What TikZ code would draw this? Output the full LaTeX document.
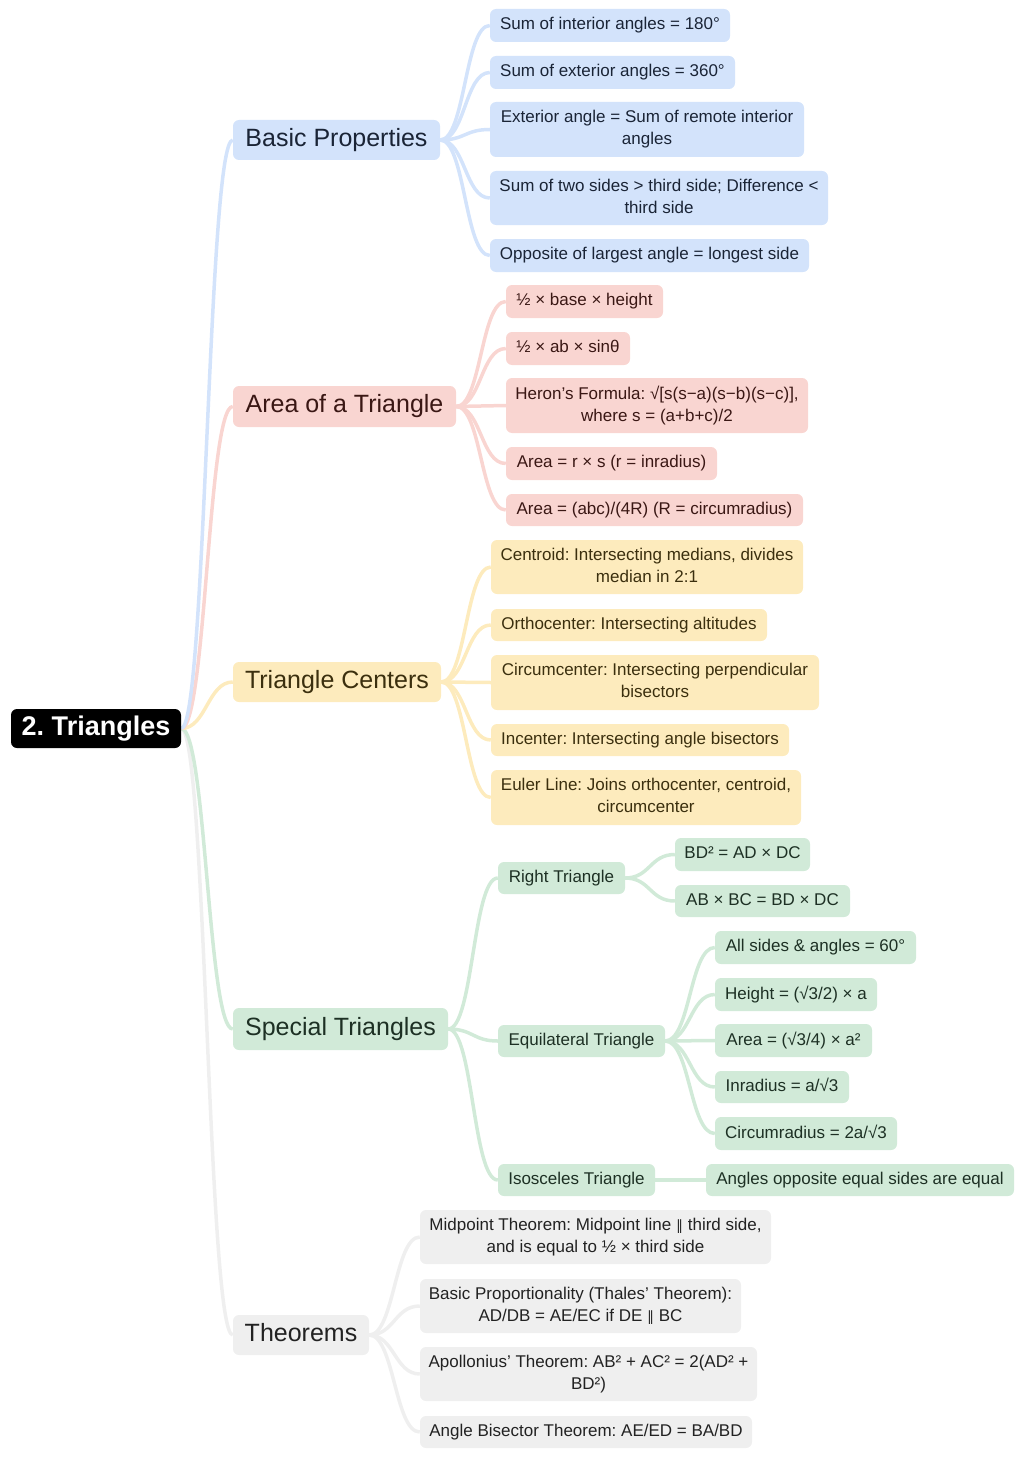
\documentclass[tikz,border=0pt]{standalone}
\usepackage{fontspec}
\setmainfont{Liberation Sans}
\newfontfamily\dvs{DejaVu Sans}
\usetikzlibrary{backgrounds}
\frenchspacing
\definecolor{bfill}{HTML}{D3E3FB}
\definecolor{btext}{HTML}{1A2436}
\definecolor{rfill}{HTML}{F9D5D1}
\definecolor{rtext}{HTML}{3A1714}
\definecolor{yfill}{HTML}{FDEBBD}
\definecolor{ytext}{HTML}{3B2F0E}
\definecolor{gfill}{HTML}{D1EAD8}
\definecolor{gtext}{HTML}{1D3024}
\definecolor{kfill}{HTML}{EFEFEF}
\definecolor{ktext}{HTML}{222222}
\newcommand\lnk[3]{\draw[cn=#1] (#2.east) .. controls +(25,0) and +(-25,0) .. (#3.west);}
\newcommand\parsym{{\dvs\fontsize{14}{14}\selectfont ∥}}
\newcommand\T{\rule[-0.24em]{0pt}{0.99em}}
\begin{document}
\begin{tikzpicture}[x=1pt,y=-1pt,
  box/.style={rounded corners=6pt, inner sep=0pt, align=center, font=\fontsize{17}{22}\selectfont},
  main/.style={rounded corners=6pt, inner sep=0pt, font=\fontsize{25}{30}\selectfont},
  sz/.style 2 args={minimum width=#1, minimum height=#2},
  bl/.style={box, fill=bfill, text=btext},
  rd/.style={box, fill=rfill, text=rtext},
  yl/.style={box, fill=yfill, text=ytext},
  gr/.style={box, fill=gfill, text=gtext},
  gy/.style={box, fill=kfill, text=ktext},
  cn/.style={line width=3.5pt, draw=#1}]
\useasboundingbox (0,0) rectangle (1024,1458);
% root
\node[rounded corners=6pt, fill=black, text=white, font=\fontsize{27}{30}\selectfont\bfseries, sz={170}{39}] (root) at (96,728.5) {\T 2. Triangles};
% main branches
\node[main, fill=bfill, text=btext, sz={207}{40}] (bp) at (336.5,140) {\T Basic Properties};
\node[main, fill=rfill, text=rtext, sz={223}{41}] (ar) at (344.5,406.5) {\T Area of a Triangle};
\node[main, fill=yfill, text=ytext, sz={208}{40}] (tc) at (337,682) {\T Triangle Centers};
\node[main, fill=gfill, text=gtext, sz={215}{42}] (st) at (340.5,1029) {\T Special Triangles};
\node[main, fill=kfill, text=ktext, sz={136}{40}] (th) at (301,1335) {\T Theorems};
% basic properties
\node[bl, sz={240}{33}] (b1) at (610,25.5) {\T Sum of interior angles = 180°};
\node[bl, sz={245}{33}] (b2) at (612.5,72.5) {\T Sum of exterior angles = 360°};
\node[bl, sz={314}{55}] (b3) at (647,129.5) {\T Exterior angle = Sum of remote interior\\angles\T};
\node[bl, sz={338}{54}] (b4) at (659,198) {\T Sum of two sides > third side; Difference <\\third side\T};
\node[bl, sz={319}{33}] (b5) at (649.5,255.5) {\T Opposite of largest angle = longest side};
% area
\node[rd, sz={157}{33}] (a1) at (584.5,301.5) {\T ½ × base × height};
\node[rd, sz={124}{33}] (a2) at (568,348.5) {\T ½ × ab × sinθ};
\node[rd, sz={302}{55}] (a3) at (657,405.5) {\T Heron’s Formula: √[s(s−a)(s−b)(s−c)],\\where s = (a+b+c)/2\T};
\node[rd, sz={211}{33}] (a4) at (611.5,463.5) {\T Area = r × s (r = inradius)};
\node[rd, sz={297}{32}] (a5) at (654.5,510) {\T Area = (abc)/(4R) (R = circumradius)};
% centers
\node[yl, sz={312}{54}] (c1) at (647,567) {\T Centroid: Intersecting medians, divides\\median in 2:1\T};
\node[yl, sz={276}{32}] (c2) at (629,625) {\T Orthocenter: Intersecting altitudes};
\node[yl, sz={328}{55}] (c3) at (655,682.5) {\T Circumcenter: Intersecting perpendicular\\bisectors\T};
\node[yl, sz={298}{32}] (c4) at (640,740) {\T Incenter: Intersecting angle bisectors};
\node[yl, sz={310}{55}] (c5) at (646,797.5) {\T Euler Line: Joins orthocenter, centroid,\\circumcenter\T};
% special
\node[gr, sz={127}{32}] (rt) at (561.5,878) {\T Right Triangle};
\node[gr, sz={135}{33}] (r1) at (742.5,854.5) {\T BD² = AD × DC};
\node[gr, sz={175}{32}] (r2) at (762.5,901) {\T AB × BC = BD × DC};
\node[gr, sz={167}{32}] (eq) at (581.5,1041) {\T Equilateral Triangle};
\node[gr, sz={201}{33}] (e1) at (815.5,947.5) {\T All sides \& angles = 60°};
\node[gr, sz={162}{33}] (e2) at (796,994.5) {\T Height = (√3/2) × a};
\node[gr, sz={157}{33}] (e3) at (793.5,1040.5) {\T Area = (√3/4) × a²};
\node[gr, sz={134}{32}] (e4) at (782,1087) {\T Inradius = a/√3};
\node[gr, sz={182}{33}] (e5) at (806,1133.5) {\T Circumradius = 2a/√3};
\node[gr, sz={157}{32}] (is) at (576.5,1180) {\T Isosceles Triangle};
\node[gr, sz={308}{32}] (i1) at (860,1180) {\T Angles opposite equal sides are equal};
% theorems
\node[gy, sz={351}{54}] (t1) at (595.5,1237) {\T Midpoint Theorem: Midpoint line \parsym{} third side,\\and is equal to ½ × third side\T};
\node[gy, sz={321}{54}] (t2) at (580.5,1306) {\T Basic Proportionality (Thales’ Theorem):\\AD/DB = AE/EC if DE \parsym{} BC\T};
\node[gy, sz={337}{54}] (t3) at (588.5,1374) {\T Apollonius’ Theorem: AB² + AC² = 2(AD² +\\BD²)\T};
\node[gy, sz={332}{32}] (t4) at (586,1432) {\T Angle Bisector Theorem: AE/ED = BA/BD};
\begin{scope}[on background layer]
\lnk{kfill}{root}{th}
\lnk{gfill}{root}{st}
\lnk{yfill}{root}{tc}
\lnk{rfill}{root}{ar}
\lnk{bfill}{root}{bp}
\foreach \n in {b1,b2,b3,b4,b5} {\lnk{bfill}{bp}{\n}}
\foreach \n in {a1,a2,a3,a4,a5} {\lnk{rfill}{ar}{\n}}
\foreach \n in {c1,c2,c3,c4,c5} {\lnk{yfill}{tc}{\n}}
\foreach \n in {rt,eq,is} {\lnk{gfill}{st}{\n}}
\foreach \n in {r1,r2} {\lnk{gfill}{rt}{\n}}
\foreach \n in {e1,e2,e3,e4,e5} {\lnk{gfill}{eq}{\n}}
\lnk{gfill}{is}{i1}
\foreach \n in {t1,t2,t3,t4} {\lnk{kfill}{th}{\n}}
\end{scope}
\end{tikzpicture}
\end{document}
